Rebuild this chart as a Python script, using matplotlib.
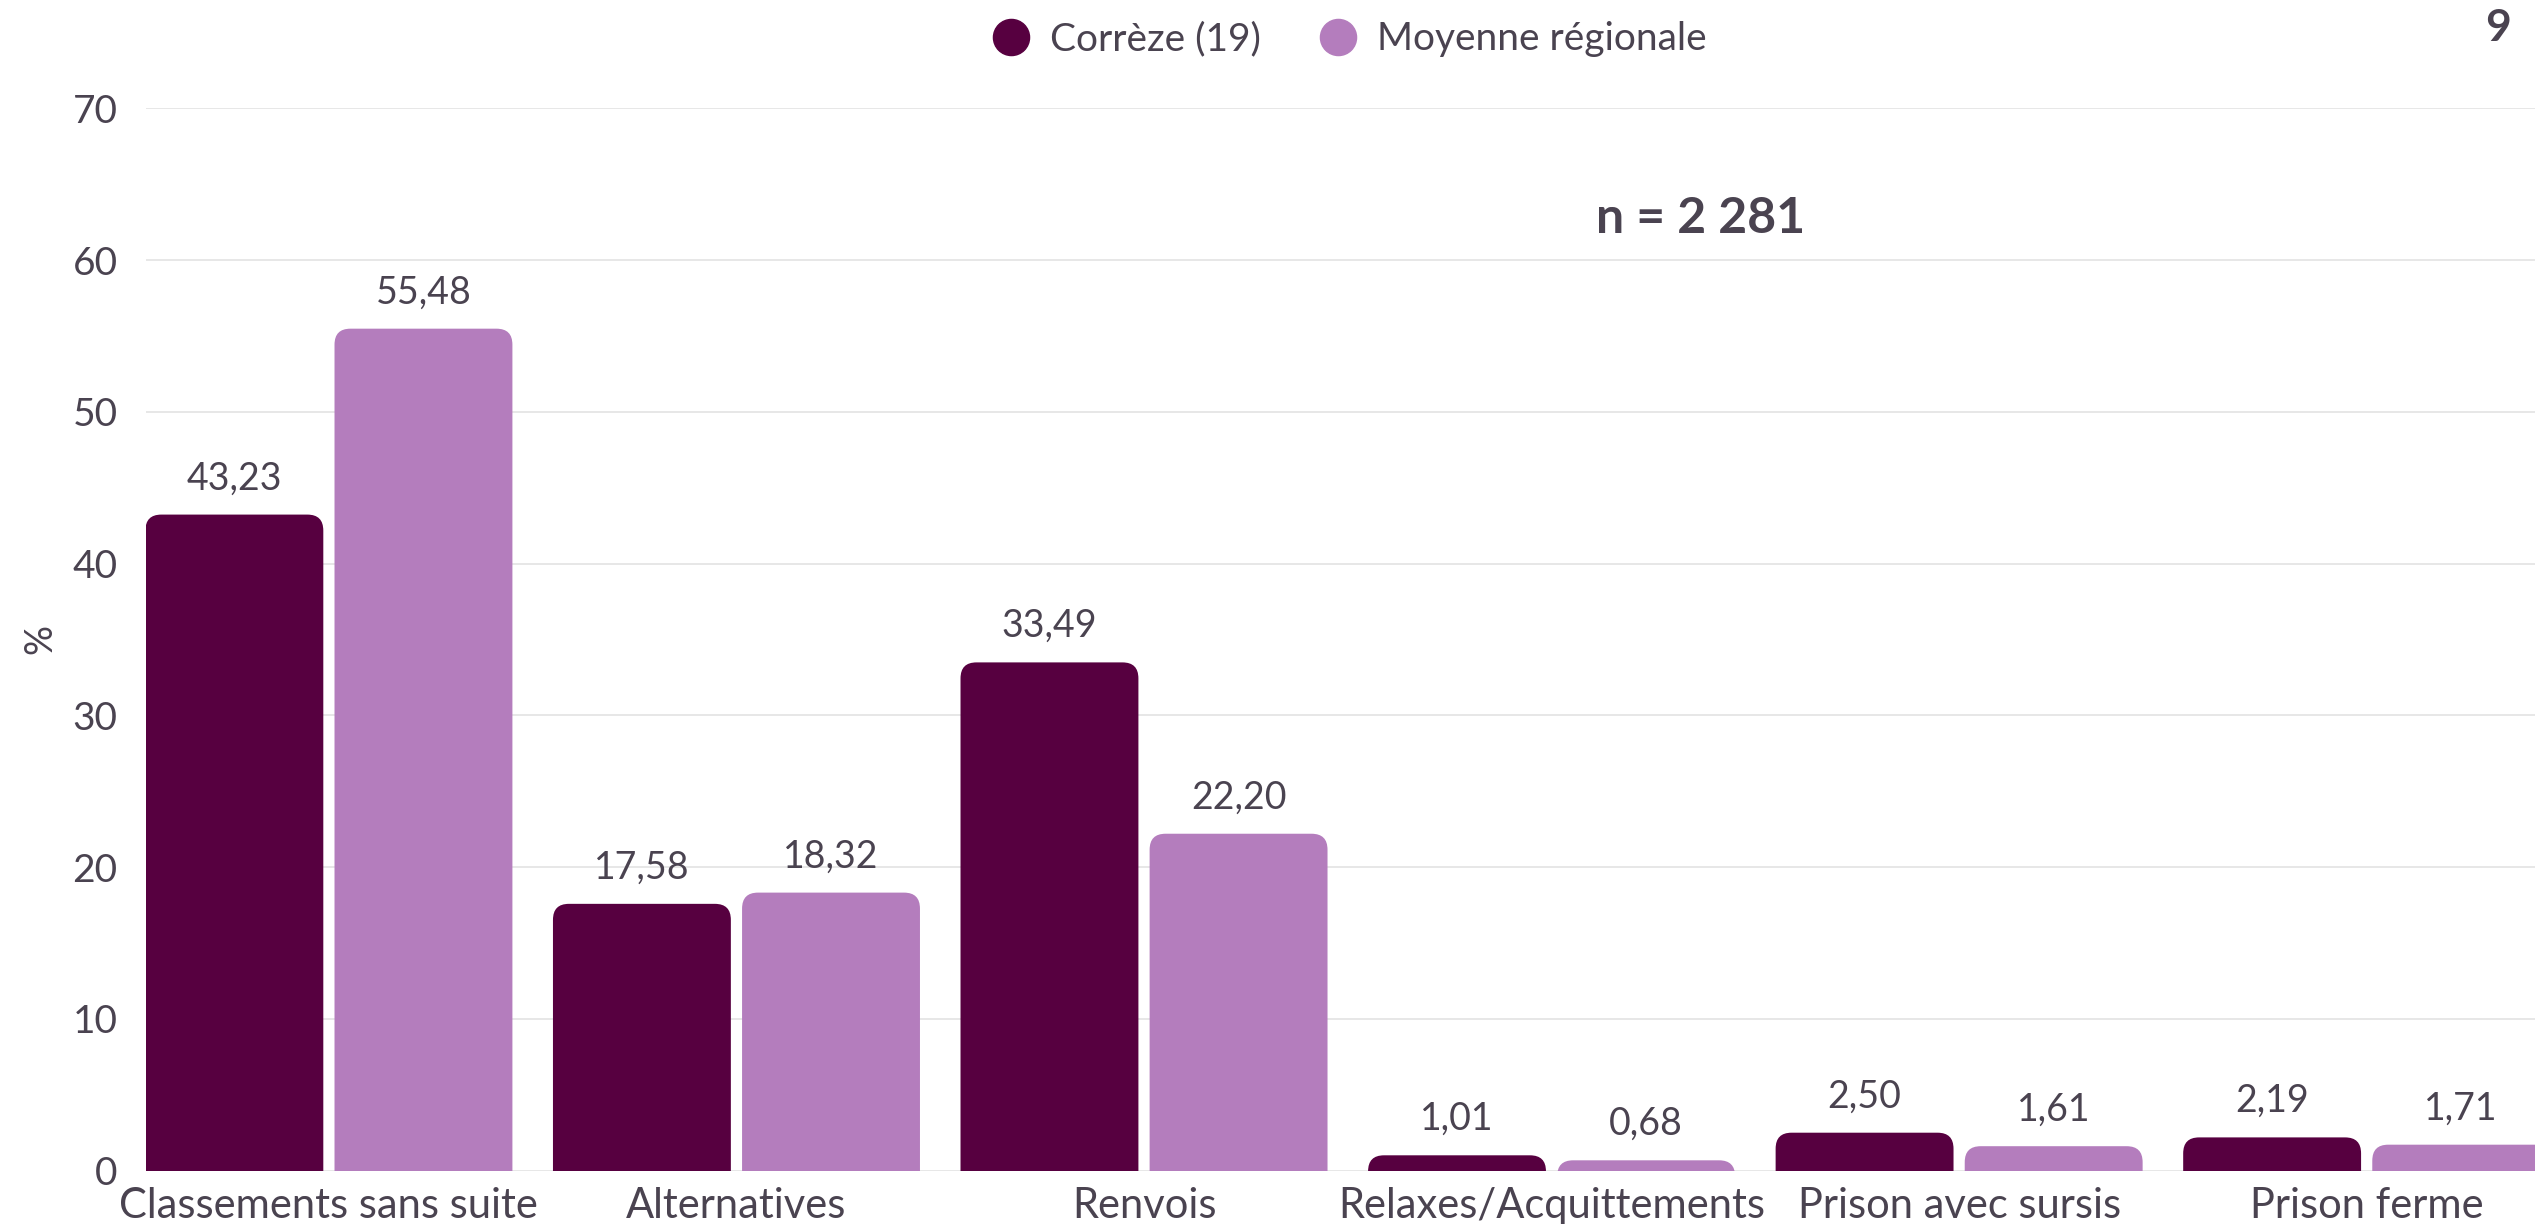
import numpy as np
import matplotlib.pyplot as plt
from matplotlib.patches import FancyBboxPatch
from matplotlib.lines import Line2D

plt.rcParams['font.family'] = ['Lato', 'DejaVu Sans']

categories = ["Classements sans suite", "Alternatives", "Renvois",
              "Relaxes/Acquittements", "Prison avec sursis", "Prison ferme"]
correze = [43.23, 17.58, 33.49, 1.01, 2.50, 2.19]
regionale = [55.48, 18.32, 22.20, 0.68, 1.61, 1.71]
series_names = ["Corrèze (19)", "Moyenne régionale"]
n_total = "n = 2 281"

c_dark = "#570040"
c_light = "#b47dbd"
txt = "#4a4350"

fig = plt.figure(figsize=(25.35, 12.24), dpi=100)
ax = fig.add_axes([0.0574, 0.0436, 0.9426, 0.8679])

x = np.arange(len(categories))
w = 0.4365
off = 0.232
bars1 = ax.bar(x - off, correze, w, color=c_dark)
bars2 = ax.bar(x + off, regionale, w, color=c_light)

ax.set_xlim(-0.45, 5.413)
ax.set_ylim(0, 70)

# rounded tops: replace each bar by a rounded patch starting below 0 (clipped)
rx = 0.039
ry = 1.05
for bars in (bars1, bars2):
    for b in bars:
        b.set_visible(False)
        x0, h = b.get_x(), b.get_height()
        p = FancyBboxPatch((x0, -2 * ry), b.get_width(), h + 2 * ry,
                           boxstyle=f"round,pad=0,rounding_size={rx}",
                           mutation_aspect=ry / rx,
                           facecolor=b.get_facecolor(), edgecolor="none", zorder=3)
        ax.add_patch(p)
        ax.text(x0 + b.get_width() / 2, h + 1.2, f"{h:.2f}".replace(".", ","),
                ha="center", va="bottom", fontsize=27, color=txt)

ax.set_yticks(np.arange(0, 71, 10))
ax.yaxis.grid(True, color="#e3e3e3", linewidth=1.2)
ax.set_axisbelow(True)
for s in ax.spines.values():
    s.set_visible(False)
ax.tick_params(axis="both", length=0, labelsize=28, colors=txt)
ax.tick_params(axis="y", pad=20)
ax.tick_params(axis="x", pad=12)
ax.set_xticks(x)
ax.set_xticklabels(categories, fontsize=30)
ax.set_ylabel("%", fontsize=27, color=txt, labelpad=10)

fig.text(1052 / 1568, 1 - 135 / 757, n_total,
         ha="center", va="center", fontsize=36, fontweight="bold", color=txt)
fig.text(0.9855, 0.977, "9", ha="center", va="center", fontsize=32,
         fontweight="bold", color=txt)

handles = [Line2D([], [], marker="o", linestyle="none", markersize=26, color=c_dark),
           Line2D([], [], marker="o", linestyle="none", markersize=26, color=c_light)]
fig.legend(handles, series_names, loc="center", bbox_to_anchor=(0.5284, 0.968),
           ncol=2, frameon=False, fontsize=28, labelcolor=txt,
           handletextpad=0.0, columnspacing=1.0)

fig.savefig("out.png", dpi=100)
